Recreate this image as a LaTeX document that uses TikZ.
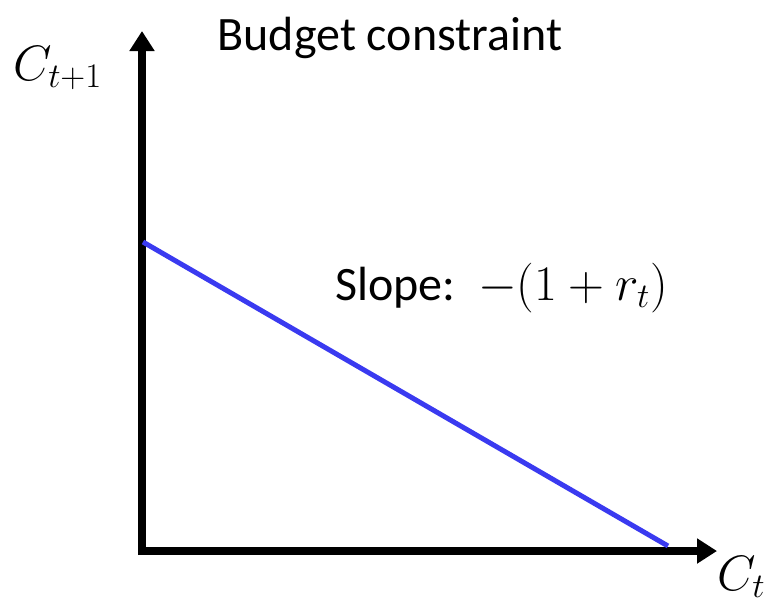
\documentclass[tikz,border=0pt]{standalone}
\usepackage{fontspec}
\setmainfont{Carlito}
\usepackage{tikz}
\usetikzlibrary{positioning,calc,arrows.meta}
\definecolor{AxisBlack}{HTML}{000000}
\definecolor{BudgetBlue}{HTML}{3A3AF0}

\tikzset{
	axis/.style={draw=AxisBlack, line width=4pt, -{Triangle[length=10pt,width=12pt]}},
	budget/.style={draw=BudgetBlue, line width=2.5pt},
	lbl/.style={font=\fontsize{24}{29}\selectfont, inner sep=0pt}
}

\begin{document}
\begin{tikzpicture}[x=0.5pt,y=0.5pt]
	\useasboundingbox (0,0) rectangle (769,602);
	% axes
	\coordinate (origin) at (142,51);
	\coordinate (ytop) at (142,571);
	\coordinate (xend) at (717,51);
	\draw[axis] ($(origin)+(0,-4)$) -- (ytop);
	\draw[axis] ($(origin)+(-4,0)$) -- (xend);
	% budget line
	\coordinate (bstart) at (143,360);
	\coordinate (bend) at (668,56);
	\draw[budget] (bstart) -- (bend);
	% labels
	\node[lbl, anchor=base] (title) at (390,552) {Budget constraint};
	\node[lbl, anchor=base west, font=\fontsize{23}{28}\selectfont] (ylabel) at (13,522) {$C_{t+1}$};
	\node[lbl, anchor=base east, font=\fontsize{23}{28}\selectfont] (xlabel) at (766,12) {$C_t$};
	\node[lbl, anchor=base west] (slope) at (335,302) {Slope:\, $-(1+r_t)$};
\end{tikzpicture}
\end{document}
